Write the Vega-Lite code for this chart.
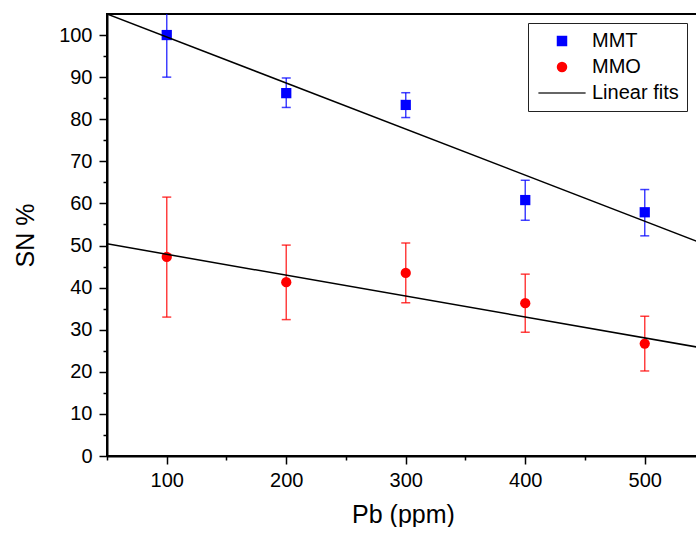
{
  "$schema": "https://vega.github.io/schema/vega-lite/v6.json",
  "width": 592,
  "height": 442,
  "padding": {"left": 13, "top": 14, "right": 0, "bottom": 0},
  "autosize": {"type": "pad"},
  "config": {
    "font": "Liberation Sans",
    "view": {"stroke": "black", "strokeWidth": 2},
    "axis": {
      "grid": false,
      "domainColor": "black",
      "domainWidth": 2,
      "tickColor": "black",
      "tickWidth": 1.5,
      "labelFontSize": 20,
      "labelColor": "black",
      "labelOverlap": false,
      "labelFlush": false,
      "titleFontSize": 25,
      "titleFontWeight": "normal",
      "titleColor": "black"
    }
  },
  "datasets": {
    "points": [
      {"pb": 100, "sn": 100.0, "lo": 90.0, "hi": 110.0, "series": "MMT"},
      {"pb": 200, "sn": 86.2, "lo": 82.8, "hi": 89.8, "series": "MMT"},
      {"pb": 300, "sn": 83.4, "lo": 80.4, "hi": 86.3, "series": "MMT"},
      {"pb": 400, "sn": 60.8, "lo": 56.0, "hi": 65.5, "series": "MMT"},
      {"pb": 500, "sn": 57.9, "lo": 52.3, "hi": 63.3, "series": "MMT"},
      {"pb": 100, "sn": 47.3, "lo": 33.0, "hi": 61.5, "series": "MMO"},
      {"pb": 200, "sn": 41.3, "lo": 32.4, "hi": 50.1, "series": "MMO"},
      {"pb": 300, "sn": 43.5, "lo": 36.4, "hi": 50.6, "series": "MMO"},
      {"pb": 400, "sn": 36.3, "lo": 29.4, "hi": 43.2, "series": "MMO"},
      {"pb": 500, "sn": 26.7, "lo": 20.2, "hi": 33.2, "series": "MMO"}
    ],
    "fits": [
      {"pb": 50, "sn": 105.0, "fit": "MMT", "series": "Linear fits"},
      {"pb": 545.4, "sn": 50.8, "fit": "MMT", "series": "Linear fits"},
      {"pb": 50, "sn": 50.4, "fit": "MMO", "series": "Linear fits"},
      {"pb": 545.4, "sn": 25.8, "fit": "MMO", "series": "Linear fits"}
    ]
  },
  "resolve": {"axis": {"x": "independent", "y": "independent"}},
  "layer": [
    {
      "layer": [
        {
          "data": {"name": "points"},
          "mark": {"type": "rule", "strokeWidth": 1.5, "opacity": 0.75, "clip": true},
          "encoding": {
            "x": {"field": "pb", "type": "quantitative", "scale": {"domain": [50, 545.4], "nice": false, "zero": false},
              "axis": {"title": "Pb (ppm)", "orient": "bottom", "values": [100, 200, 300, 400, 500],
                "tickSize": 8, "labelPadding": 6, "titlePadding": 12}},
            "y": {"field": "lo", "type": "quantitative", "scale": {"domain": [0, 105], "nice": false},
              "axis": {"title": "SN %", "orient": "left", "values": [0, 10, 20, 30, 40, 50, 60, 70, 80, 90, 100],
                "tickSize": 8, "labelPadding": 7, "titlePadding": 20}},
            "y2": {"field": "hi"},
            "color": {"condition": {"test": "datum.series === 'MMT'", "value": "#0000FF"}, "value": "#FF0000"}
          }
        },
        {
          "data": {"name": "points"},
          "mark": {"type": "tick", "orient": "horizontal", "size": 9, "thickness": 1.5, "opacity": 0.75, "clip": true},
          "encoding": {
            "x": {"field": "pb", "type": "quantitative"},
            "y": {"field": "lo", "type": "quantitative"},
            "color": {"condition": {"test": "datum.series === 'MMT'", "value": "#0000FF"}, "value": "#FF0000"}
          }
        },
        {
          "data": {"name": "points"},
          "mark": {"type": "tick", "orient": "horizontal", "size": 9, "thickness": 1.5, "opacity": 0.75, "clip": true},
          "encoding": {
            "x": {"field": "pb", "type": "quantitative"},
            "y": {"field": "hi", "type": "quantitative"},
            "color": {"condition": {"test": "datum.series === 'MMT'", "value": "#0000FF"}, "value": "#FF0000"}
          }
        },
        {
          "data": {"name": "points"},
          "mark": {"type": "point", "filled": true, "opacity": 1, "size": 105},
          "encoding": {
            "x": {"field": "pb", "type": "quantitative"},
            "y": {"field": "sn", "type": "quantitative"},
            "color": {"field": "series", "type": "nominal",
              "scale": {"domain": ["MMT", "MMO", "Linear fits"], "range": ["#0000FF", "#FF0000", "#333333"]},
              "legend": {"title": null, "orient": "none", "legendX": 421, "legendY": 9,
                "strokeColor": "#222222", "padding": 8, "fillColor": "white",
                "labelFontSize": 20, "labelColor": "black", "symbolSize": 110, "symbolOffset": 16,
                "labelOffset": 20, "rowPadding": 6, "symbolStrokeWidth": 1.5,
                "symbolStrokeColor": {"expr": "datum.value === 'Linear fits' ? '#333333' : 'transparent'"}}},
            "shape": {"field": "series", "type": "nominal",
              "scale": {"domain": ["MMT", "MMO", "Linear fits"], "range": ["square", "circle", "M-4.5,0L4.5,0"]},
              "legend": {"title": null, "orient": "none", "legendX": 421, "legendY": 9,
                "strokeColor": "#222222", "padding": 8, "fillColor": "white",
                "labelFontSize": 20, "labelColor": "black", "symbolSize": 110, "symbolOffset": 16,
                "labelOffset": 20, "rowPadding": 6, "symbolStrokeWidth": 1.5,
                "symbolStrokeColor": {"expr": "datum.value === 'Linear fits' ? '#333333' : 'transparent'"}}}
          }
        }
      ]
    },
    {
      "data": {"name": "fits"},
      "mark": {"type": "line", "strokeWidth": 1.5, "clip": true},
      "encoding": {
        "x": {"field": "pb", "type": "quantitative",
          "axis": {"title": null, "orient": "bottom", "values": [50, 150, 250, 350, 450], "labels": false, "domain": false, "tickSize": 4}},
        "y": {"field": "sn", "type": "quantitative",
          "axis": {"title": null, "orient": "left", "values": [5, 15, 25, 35, 45, 55, 65, 75, 85, 95], "labels": false, "domain": false, "tickSize": 4}},
        "detail": {"field": "fit"},
        "color": {"value": "#000000"}
      }
    }
  ]
}
